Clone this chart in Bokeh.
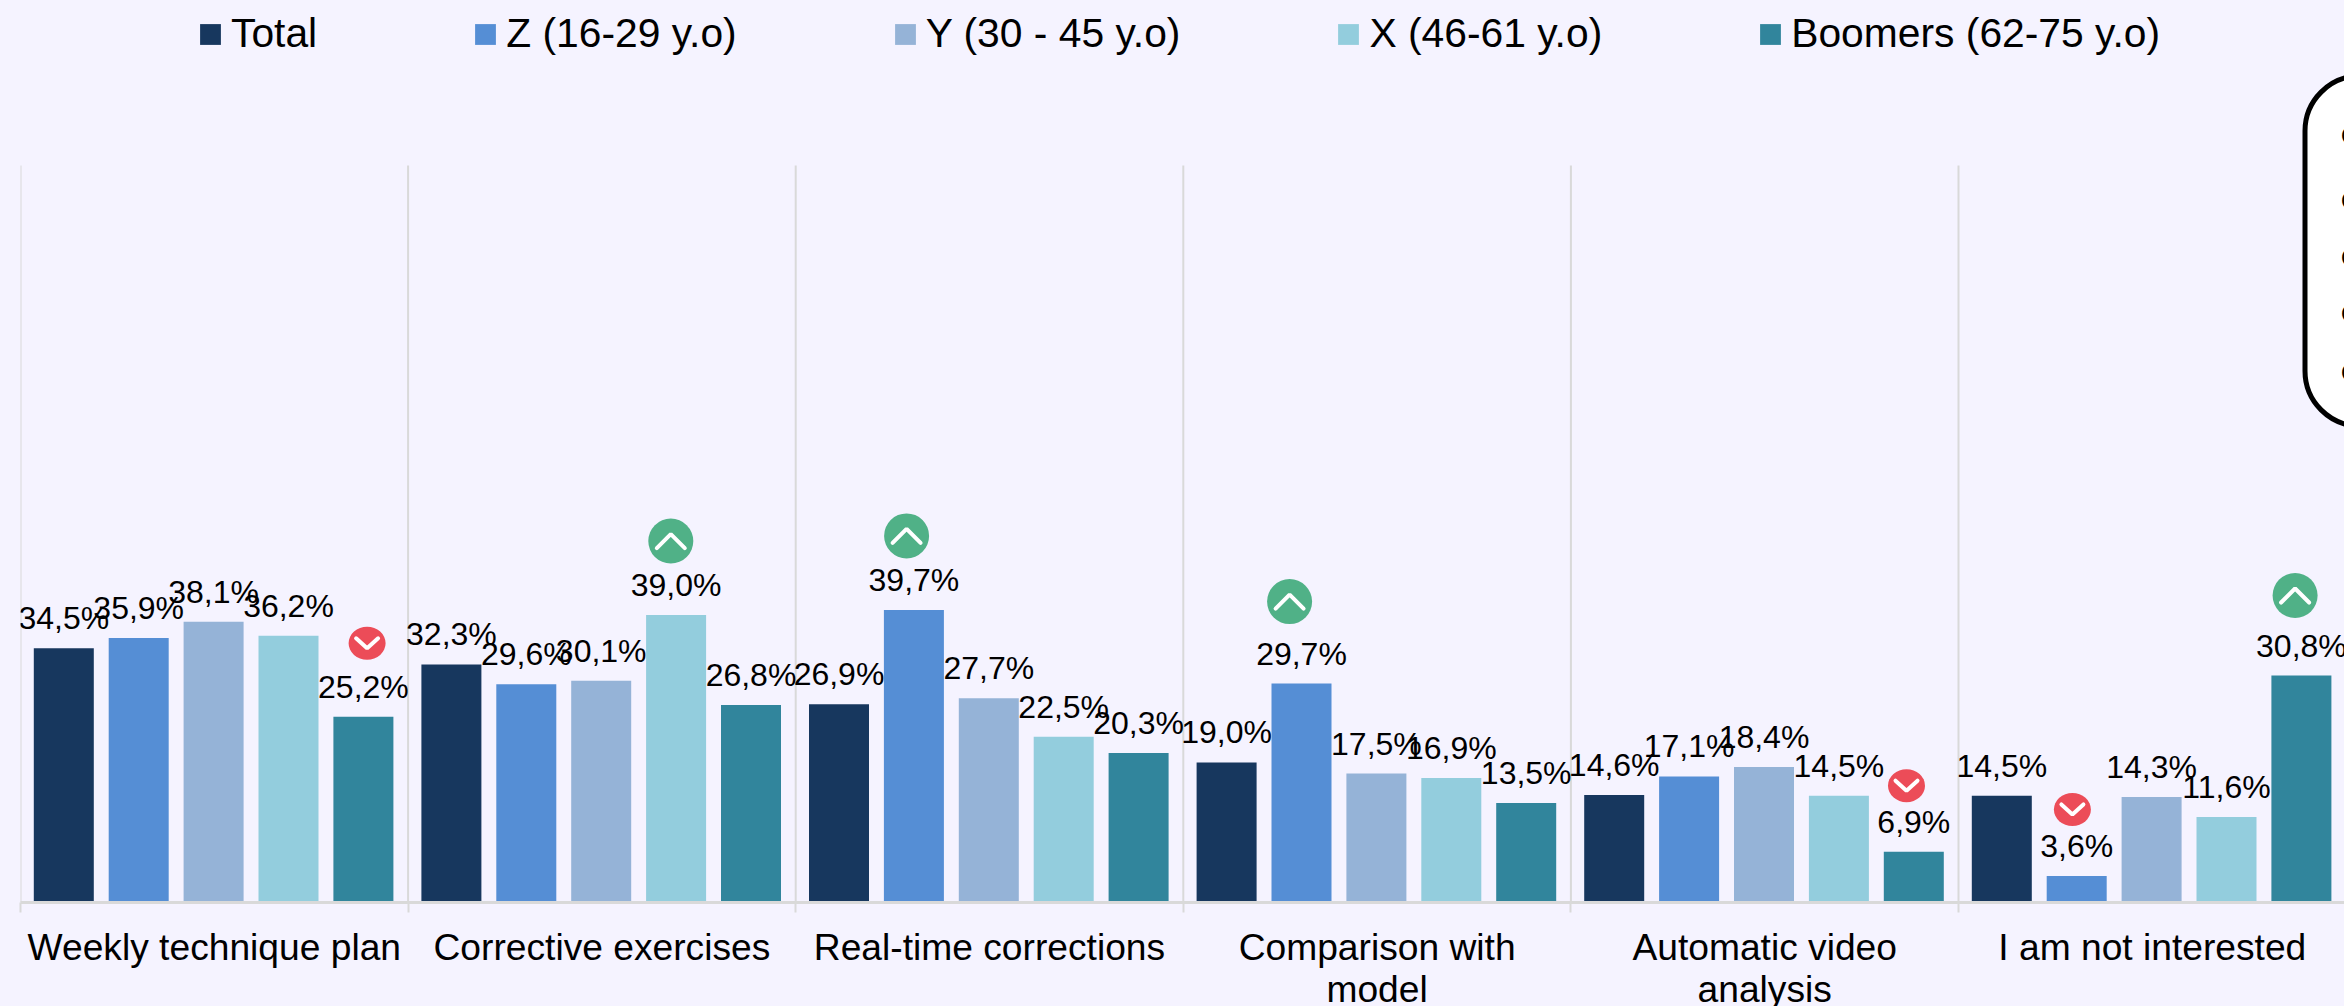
from bokeh.plotting import figure
from bokeh.models import Range1d, FixedTicker, Legend, LegendItem
from bokeh.core.properties import value
from bokeh.embed import file_html
from bokeh.resources import INLINE

categories = ["Weekly technique plan", "Corrective exercises", "Real-time corrections",
              "Comparison with\nmodel", "Automatic video\nanalysis", "I am not interested"]
series_names = ["Total", "Z (16-29 y.o)", "Y (30 - 45 y.o)", "X (46-61 y.o)", "Boomers (62-75 y.o)"]
total = [34.5, 32.3, 26.9, 19.0, 14.6, 14.5]
gen_z = [35.9, 29.6, 39.7, 29.7, 17.1, 3.6]
gen_y = [38.1, 30.1, 27.7, 17.5, 18.4, 14.3]
gen_x = [36.2, 39.0, 22.5, 16.9, 14.5, 11.6]
boomers = [25.2, 26.8, 20.3, 13.5, 6.9, 30.8]
series_values = [total, gen_z, gen_y, gen_x, boomers]
colors = ["#17375E", "#558ED5", "#95B3D7", "#93CDDD", "#31859C"]

# (series index, category index, direction)
badges = [(4, 0, "down"), (3, 1, "up"), (1, 2, "up"), (1, 3, "up"),
          (4, 4, "down"), (1, 5, "down"), (4, 5, "up")]
badge_dx = [3, -6, -8, -12.6, -8, -5, -7]
badge_dy = [73.5, 74, 74, 82, 66, 66.5, 80]
box_marks = ["O", "O", "O", "O", "O"]
box_mark_px = [135, 200, 257, 313, 372]

BG = "#F5F3FF"
GREY = "#D9D9D9"
FONT = "Liberation Sans"
W, H = 2344, 1012
LEFT, BASE = 20, 902
CAT_PX, PCT_PX = 387.6, 7.37
STEP_PX, BAR_PX = 74.9, 60
SHIFT_PX = -0.7

def px_x(px):
    return (px - LEFT) / CAT_PX

def px_y(px):
    return (BASE - px) / PCT_PX

p = figure(width=W, height=H, output_backend="svg", toolbar_location=None,
           x_range=Range1d(0, (W - LEFT) / CAT_PX), y_range=Range1d(0, BASE / PCT_PX),
           min_border_left=LEFT, min_border_right=0, min_border_top=0, min_border_bottom=H - BASE,
           background_fill_color=BG, border_fill_color=BG, outline_line_color=None)
p.yaxis.visible = False
p.grid.visible = False

ticks = list(range(7))
p.segment(x0=ticks, x1=ticks, y0=[0] * 7, y1=[100] * 7, line_color=GREY, line_width=2, level="underlay")

ax = p.xaxis[0]
ax.ticker = FixedTicker(ticks=[i + 0.5 for i in range(6)], minor_ticks=ticks)
ax.major_label_overrides = {i + 0.5: c for i, c in enumerate(categories)}
ax.major_label_text_font = FONT
ax.major_label_text_font_size = "37.2px"
ax.major_label_text_color = "#000000"
ax.major_label_text_line_height = 1.0
ax.major_label_standoff = 13
ax.major_tick_line_color = None
ax.major_tick_out = 0
ax.major_tick_in = 0
ax.minor_tick_line_color = GREY
ax.minor_tick_line_width = 2
ax.minor_tick_out = 10
ax.minor_tick_in = 0
ax.axis_line_color = GREY
ax.axis_line_width = 3

items = []
xs_all, ys_all, labels_all = [], [], []
for s, (name, vals, col) in enumerate(zip(series_names, series_values, colors)):
    xs = [i + 0.5 + ((s - 2) * STEP_PX + SHIFT_PX) / CAT_PX for i in range(6)]
    r = p.vbar(x=xs, top=vals, bottom=0, width=BAR_PX / CAT_PX, fill_color=col, line_color=None)
    items.append(LegendItem(label=name, renderers=[r]))
    xs_all += xs
    ys_all += vals
    labels_all += [f"{v:.1f}%".replace(".", ",") for v in vals]

p.text(x=xs_all, y=ys_all, text=labels_all, text_font=value(FONT), text_font_size="32px",
       text_color="#000000", text_align="center", text_baseline="alphabetic", y_offset=-30)

# trend badges
for (s, c, kind), dx, dy in zip(badges, badge_dx, badge_dy):
    cx = c + 0.5 + (s - 2) * STEP_PX / CAT_PX + dx / CAT_PX
    cy = series_values[s][c] + dy / PCT_PX
    up = kind == "up"
    bw, bh = (45, 45) if up else (37, 33)
    col = "#50B187" if up else "#EC4C58"
    p.ellipse(x=[cx], y=[cy], width=[bw / CAT_PX], height=[bh / PCT_PX], fill_color=col, line_color=None)
    hw = (14 if up else 11) / CAT_PX
    hh = (7 if up else 5) / PCT_PX
    sign = 1 if up else -1
    p.line(x=[cx - hw, cx, cx + hw], y=[cy - sign * hh, cy + sign * hh, cy - sign * hh],
           line_color="#FFFFFF", line_width=4, line_cap="round")

# cropped note box on the right edge
p.quad(left=[px_x(2304.5)], right=[px_x(2500)], top=[px_y(75.5)], bottom=[px_y(425.5)],
       fill_color="#FFFFFF", line_color="#000000", line_width=5, border_radius=55)
p.text(x=[px_x(2340.5)] * 5, y=[px_y(v) for v in box_mark_px], text=box_marks, text_font=value(FONT),
       text_font_size="24px", text_color="#000000", text_align="left", text_baseline="middle")

legend = Legend(items=items, orientation="horizontal", location=(177, 845), spacing=155,
                glyph_width=26, glyph_height=26, label_standoff=8, label_height=40,
                padding=0, margin=0, background_fill_alpha=0, border_line_color=None,
                label_text_font=FONT, label_text_font_size="40.8px", label_text_color="#000000")
p.add_layout(legend, "center")

html = file_html(p, INLINE)
html = html.replace("<head>", f"<head><style>html,body{{margin:0;overflow:hidden;background:{BG}}}</style>", 1)
open("out.html", "w").write(html)
